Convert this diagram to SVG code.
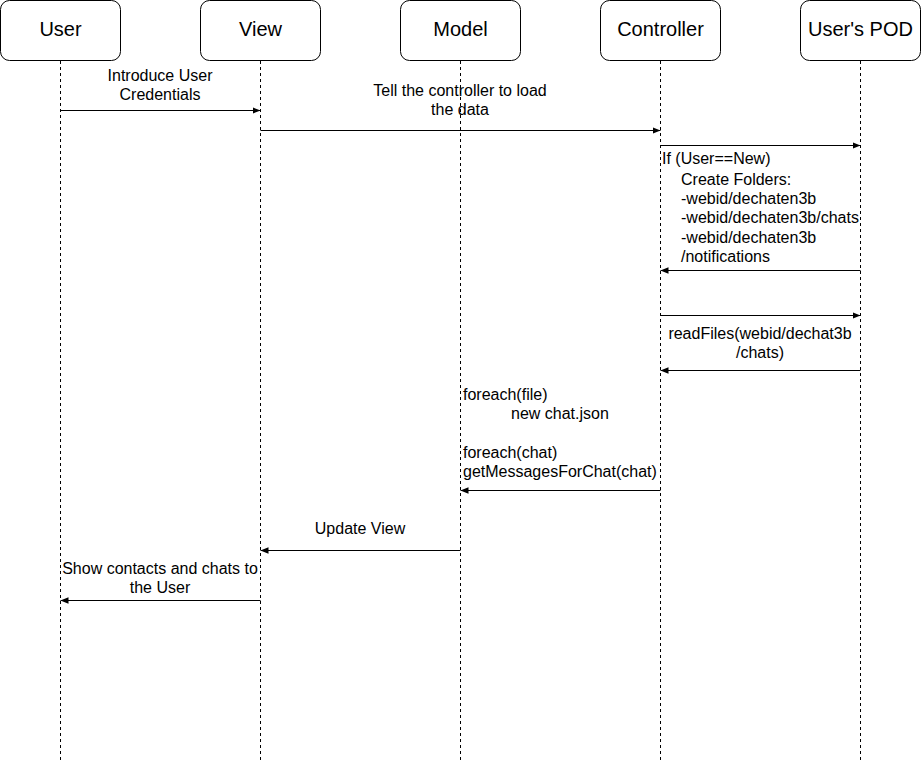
<svg xmlns="http://www.w3.org/2000/svg" width="921" height="762" viewBox="0 0 921 762">
<style>
.box{fill:#fff;stroke:#000;stroke-width:1}
.life{stroke:#000;stroke-dasharray:3 3;fill:none}
.hd{font-family:"Liberation Sans",Arial,sans-serif;font-size:20px;text-anchor:middle}
.t{font-family:"Liberation Sans",Arial,sans-serif;font-size:16px}
.c{text-anchor:middle}
.arr{stroke:#000;stroke-width:1;fill:none;marker-end:url(#ah)}
</style>
<defs><marker id="ah" viewBox="0 0 10 10" refX="10" refY="5" markerWidth="8" markerHeight="8" markerUnits="userSpaceOnUse" orient="auto"><path d="M0,1 L10,5 L0,9 Z" fill="#000"/></marker></defs>
<rect width="921" height="762" fill="#fff"/>
<g id="user"><rect class="box" x="0.5" y="0.5" width="120" height="60" rx="9"/><line class="life" x1="60.5" y1="61" x2="60.5" y2="760"/><text class="hd" x="60.5" y="36">User</text></g>
<g id="view"><rect class="box" x="200.5" y="0.5" width="120" height="60" rx="9"/><line class="life" x1="260.5" y1="61" x2="260.5" y2="760"/><text class="hd" x="260.5" y="36">View</text></g>
<g id="model"><rect class="box" x="400.5" y="0.5" width="120" height="60" rx="9"/><line class="life" x1="460.5" y1="61" x2="460.5" y2="760"/><text class="hd" x="460.5" y="36">Model</text></g>
<g id="controller"><rect class="box" x="600.5" y="0.5" width="120" height="60" rx="9"/><line class="life" x1="660.5" y1="61" x2="660.5" y2="760"/><text class="hd" x="660.5" y="36">Controller</text></g>
<g id="pod"><rect class="box" x="800.5" y="0.5" width="120" height="60" rx="9"/><line class="life" x1="860.5" y1="61" x2="860.5" y2="760"/><text class="hd" x="860.5" y="36">User's POD</text></g>
<g id="connectors">
<line class="arr" x1="60.5" y1="110.5" x2="260.5" y2="110.5"/>
<line class="arr" x1="260.5" y1="130.5" x2="660.5" y2="130.5"/>
<line class="arr" x1="660.5" y1="145.5" x2="860.5" y2="145.5"/>
<line class="arr" x1="860.5" y1="270.5" x2="660.5" y2="270.5"/>
<line class="arr" x1="660.5" y1="315.5" x2="860.5" y2="315.5"/>
<line class="arr" x1="860.5" y1="370.5" x2="660.5" y2="370.5"/>
<line class="arr" x1="660.5" y1="490.5" x2="460.5" y2="490.5"/>
<line class="arr" x1="460.5" y1="550.5" x2="260.5" y2="550.5"/>
<line class="arr" x1="260.5" y1="600.5" x2="60.5" y2="600.5"/>
</g>
<g class="t">
<text class="c" x="160" y="81">Introduce User</text><text class="c" x="160" y="100">Credentials</text>
<text class="c" x="460" y="96">Tell the controller to load</text><text class="c" x="460" y="115">the data</text>
<text x="662" y="164">If (User==New)</text>
<text x="681" y="185">Create Folders:</text>
<text x="681" y="204">-webid/dechaten3b</text>
<text x="681" y="223">-webid/dechaten3b/chats</text>
<text x="681" y="243">-webid/dechaten3b</text>
<text x="681" y="262">/notifications</text>
<text class="c" x="760" y="339">readFiles(webid/dechat3b</text><text class="c" x="760" y="358">/chats)</text>
<text x="463" y="400">foreach(file)</text>
<text x="511" y="419">new chat.json</text>
<text x="463" y="458">foreach(chat)</text>
<text x="463" y="477">getMessagesForChat(chat)</text>
<text class="c" x="360" y="534">Update View</text>
<text class="c" x="160" y="574">Show contacts and chats to</text><text class="c" x="160" y="593">the User</text>
</g>
</svg>
